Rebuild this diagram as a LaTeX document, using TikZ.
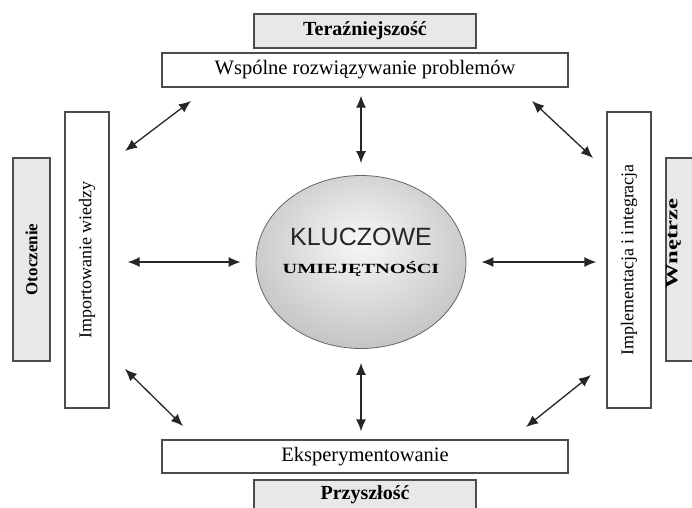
\documentclass[tikz,border=0pt]{standalone}
\usepackage{fontspec}
\setmainfont{Liberation Serif}
\newfontfamily\arialfont{Liberation Sans}
\usetikzlibrary{shapes.geometric, arrows.meta}

\colorlet{ballA}{gray!6}
\colorlet{ballB}{gray!25}
\colorlet{ballC}{gray!62}
\colorlet{ballD}{gray!85}
\pgfdeclareradialshading{ballshade}{\pgfpoint{0bp}{6bp}}{color(0bp)=(ballA); color(14bp)=(ballB); color(40bp)=(ballC); color(56bp)=(ballD); color(80bp)=(ballD)}

\begin{document}
\begin{tikzpicture}[x=1pt, y=-1pt,
    box/.style={draw=black!70, line width=1.3pt, fill=white, inner sep=0pt},
    greybox/.style={box, fill=boxgray},
    arr/.style={{Latex[length=12pt,width=10pt]}-{Latex[length=12pt,width=10pt]}, line width=1.3pt, draw=black!85}]
        % Define some colors for convenience
        \definecolor{boxgray}{rgb}{0.91,0.91,0.91} % grey header boxes
        
        \useasboundingbox (0,0) rectangle (692,507);
        \clip (0,0) rectangle (692,507);
        
        % Time boxes (top and bottom)
        \node[greybox, minimum width=222, minimum height=34, font=\fontsize{20}{24}\selectfont\bfseries] (ter) at (365,31) {Teraźniejszość}; % present
        \node[box, minimum width=406, minimum height=34, font=\fontsize{20.5}{24}\selectfont] (wsp) at (365,70) {Wspólne rozwiązywanie problemów}; % top box
        \node[box, minimum width=406, minimum height=33, font=\fontsize{20.5}{24}\selectfont] (eks) at (365,456.5) {Eksperymentowanie}; % bottom box
        \node[greybox, minimum width=222, minimum height=30, font=\fontsize{20}{24}\selectfont\bfseries] (prz) at (365,495) {Przyszłość}; % future
        
        % Side boxes (left and right)
        \node[greybox, minimum width=37, minimum height=203, font=\fontsize{17}{20}\selectfont\bfseries] (oto) at (31.5,259.5) {\rotatebox{90}{Otoczenie}}; % environment
        \node[box, minimum width=44, minimum height=296, font=\fontsize{18}{20}\selectfont] (imp) at (87,260) {\rotatebox{90}{Importowanie wiedzy}}; % left box
        \node[box, minimum width=44, minimum height=296, font=\fontsize{18}{20}\selectfont] (imi) at (629,260) {\rotatebox{90}{Implementacja i integracja}}; % right box
        \node[greybox, minimum width=40, minimum height=203] (wne) at (686,259.5) {}; % inside
        \node[inner sep=0pt, font=\fontsize{17}{20}\selectfont\bfseries] (wnt) at (673.5,243.5) {\rotatebox{90}{\scalebox{1.45}[1]{Wnętrze}}}; % inside label
        
        % Central ellipse
        \node[ellipse, draw=black!60, line width=0.8pt, shading=ballshade, minimum width=210, minimum height=173, inner sep=0pt] (ku) at (361,262) {};
        \node[font=\arialfont\fontsize{25}{25}\selectfont, text=black!85] (klu) at (361,237) {KLUCZOWE};
        \node[font=\fontsize{14}{14}\selectfont\bfseries] (umi) at (361,269) {\scalebox{1.45}[1]{UMIEJĘTNOŚCI}};
        
        % Arrows to the centre
        \draw[arr, shorten <=8pt, shorten >=12pt] (ku.north |- wsp.south) -- (ku.north); % top
        \draw[arr, shorten <=14pt, shorten >=8pt] (ku.south) -- (ku.south |- eks.north); % bottom
        \draw[arr, shorten <=15pt, shorten >=18pt] (ku.west) -- (ku.west -| imp.east); % left
        \draw[arr, shorten <=15pt, shorten >=10pt] (ku.east) -- (ku.east -| imi.west); % right
        
        % Diagonal arrows between boxes
        \coordinate (tl1) at (125,151);
        \coordinate (tl2) at (191,101);
        \coordinate (tr1) at (532,101);
        \coordinate (tr2) at (593,158);
        \coordinate (bl1) at (125,369);
        \coordinate (bl2) at (183,426);
        \coordinate (br1) at (526,427);
        \coordinate (br2) at (591,375);
        \draw[arr] (tl1) -- (tl2);
        \draw[arr] (tr1) -- (tr2);
        \draw[arr] (bl1) -- (bl2);
        \draw[arr] (br1) -- (br2);
\end{tikzpicture}
\end{document}
